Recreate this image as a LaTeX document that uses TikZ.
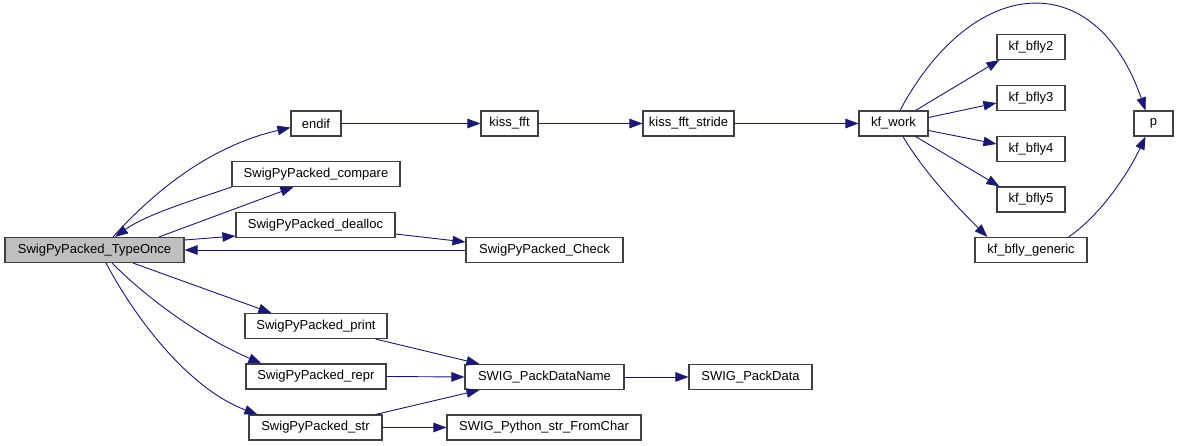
\documentclass[tikz,border=0pt]{standalone}
\usepackage{fontspec}
\setmainfont{Liberation Sans}
\usetikzlibrary{arrows.meta,calc}
\definecolor{edgec}{HTML}{191970}
\definecolor{boxc}{HTML}{404040}
\definecolor{fillc}{HTML}{BFBFBF}
\tikzset{
  fnbox/.style={draw=boxc, line width=1.1pt, fill=white, rectangle, inner sep=0pt, minimum height=25pt, font=\fontsize{13pt}{15pt}\selectfont, text=black},
  curbox/.style={fnbox, fill=fillc},
  call/.style={draw=edgec, line width=0.9pt, -{Triangle[length=13pt,width=9.5pt]}, color=edgec},
}
\begin{document}
\begin{tikzpicture}[x=1pt,y=-1pt]
\useasboundingbox[fill=white] (0,0) rectangle (1179,446);
% nodes
\node[curbox, minimum width=179pt] (TypeOnce) at (94.5,250) {SwigPyPacked\_TypeOnce};
\node[fnbox, minimum width=50pt] (endif) at (316,123.5) {endif};
\node[fnbox, minimum width=168pt] (compare) at (316,174) {SwigPyPacked\_compare};
\node[fnbox, minimum width=159pt] (dealloc) at (315.5,225) {SwigPyPacked\_dealloc};
\node[fnbox, minimum width=157pt] (Check) at (544.5,250) {SwigPyPacked\_Check};
\node[fnbox, minimum width=142pt] (print) at (316,326) {SwigPyPacked\_print};
\node[fnbox, minimum width=140pt] (repr) at (316,376.5) {SwigPyPacked\_repr};
\node[fnbox, minimum width=133pt] (str) at (315.5,427.5) {SwigPyPacked\_str};
\node[fnbox, minimum width=159pt] (PackDataName) at (544.5,377) {SWIG\_PackDataName};
\node[fnbox, minimum width=123pt] (PackData) at (750.5,377) {SWIG\_PackData};
\node[fnbox, minimum width=194pt] (FromChar) at (544,427.5) {SWIG\_Python\_str\_FromChar};
\node[fnbox, minimum width=57pt] (kissfft) at (509.5,123.5) {kiss\_fft};
\node[fnbox, minimum width=91pt] (stride) at (688.5,123.5) {kiss\_fft\_stride};
\node[fnbox, minimum width=69pt] (kfwork) at (893.5,123.5) {kf\_work};
\node[fnbox, minimum width=68pt] (bfly2) at (1031,47) {kf\_bfly2};
\node[fnbox, minimum width=68pt] (bfly3) at (1031,98) {kf\_bfly3};
\node[fnbox, minimum width=68pt] (bfly4) at (1031,149) {kf\_bfly4};
\node[fnbox, minimum width=68pt] (bfly5) at (1031,199.5) {kf\_bfly5};
\node[fnbox, minimum width=112pt] (generic) at (1031,250) {kf\_bfly\_generic};
\node[fnbox, minimum width=39pt] (p) at (1153.5,123.5) {p};
% edges
\draw[call] ($(TypeOnce.north)+(18.5,0)$) .. controls (160,185) and (215,145) .. ($(endif.west)+(0,4)$);
\draw[call] (compare.south west) .. controls (194,200) and (147,214) .. ($(TypeOnce.north)+(20.5,0)$);
\draw[call] ($(TypeOnce.north)+(64.5,0)$) -- ($(compare.south west)+(62,0)$);
\draw[call] ($(TypeOnce.east)+(0,-10)$) -- ($(dealloc.west)+(0,11)$);
\draw[call] ($(dealloc.east)+(0,9)$) -- ($(Check.west)+(0,-8)$);
\draw[call] (Check.west) -- (TypeOnce.east);
\draw[call] ($(TypeOnce.south)+(38.5,0)$) -- ($(print.north west)+(27,0)$);
\draw[call] ($(TypeOnce.south)+(17.5,0)$) .. controls (154,305) and (207,340) .. ($(repr.north west)+(16,0)$);
\draw[call] ($(TypeOnce.south)+(11.5,0)$) .. controls (139,325) and (192,390) .. ($(str.north west)+(9,0)$);
\draw[call] ($(print.south east)+(-12,0)$) -- ($(PackDataName.north west)+(15,0)$);
\draw[call] (repr.east) -- (PackDataName.west);
\draw[call] ($(str.north east)+(-7,0)$) -- ($(PackDataName.south west)+(15,0)$);
\draw[call] (str.east) -- (FromChar.west);
\draw[call] (PackDataName.east) -- (PackData.west);
\draw[call] (endif.east) -- (kissfft.west);
\draw[call] (kissfft.east) -- (stride.west);
\draw[call] (stride.east) -- (kfwork.west);
\draw[call] ($(kfwork.north)+(6.5,0)$) .. controls (973,-26) and (1095,-35) .. ($(p.north)+(-8,0)$);
\draw[call] ($(kfwork.north east)+(-13,0)$) -- ($(bfly2.south west)+(3,0)$);
\draw[call] ($(kfwork.east)+(0,-6)$) -- ($(bfly3.west)+(0,5)$);
\draw[call] ($(kfwork.east)+(0,7)$) -- ($(bfly4.west)+(0,-5)$);
\draw[call] ($(kfwork.south east)+(-13,0)$) -- ($(bfly5.north west)+(3,0)$);
\draw[call] ($(kfwork.south)+(9.5,0)$) .. controls (923,171) and (959,209) .. ($(generic.north west)+(13,0)$);
\draw[call] ($(generic.north east)+(-19,0)$) .. controls (1101,215) and (1129,172) .. ($(p.south)+(-8,0)$);
\end{tikzpicture}
\end{document}
